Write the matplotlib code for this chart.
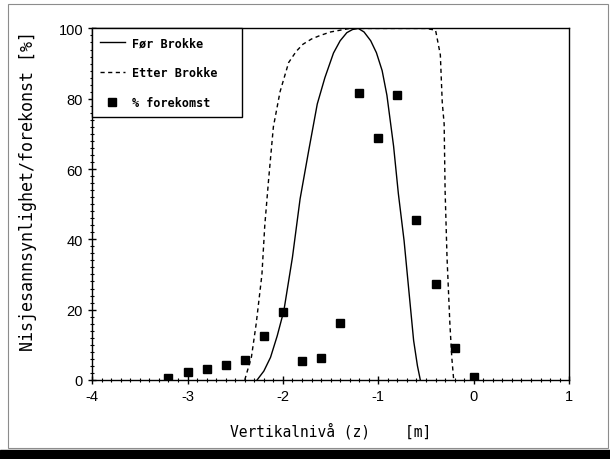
import matplotlib.pyplot as plt
from matplotlib.ticker import MultipleLocator
from matplotlib.patches import Rectangle

plt.rcParams['axes.unicode_minus'] = False

# Maalepunkter (% forekomst)
z_obs = [-3.2, -3.0, -2.8, -2.6, -2.4, -2.2, -2.0, -1.8, -1.6, -1.4,
         -1.2, -1.0, -0.8, -0.6, -0.4, -0.2, 0.0]
forekomst = [0.5, 2.3, 3.1, 4.2, 5.7, 12.5, 19.3, 5.4, 6.3, 16.2,
             81.5, 68.8, 81.2, 45.5, 27.3, 9.1, 0.9]

# Foer Brokke
z_for = [-2.27, -2.20, -2.13, -2.06, -1.99, -1.90, -1.82, -1.73, -1.64,
         -1.56, -1.47, -1.40, -1.33, -1.27, -1.21, -1.15, -1.08, -1.02,
         -0.96, -0.91, -0.84, -0.79, -0.73, -0.68, -0.63, -0.59, -0.56]
p_for = [0.0, 2.5, 6.4, 12.5, 19.7, 34.9, 51.5, 65.2, 78.5,
         86.0, 93.0, 96.5, 98.8, 99.7, 100.0, 99.0, 96.5, 93.1,
         88.0, 81.0, 66.5, 53.0, 39.6, 25.4, 11.2, 4.0, 0.0]

# Etter Brokke
z_etter = [-2.40, -2.33, -2.28, -2.22, -2.19, -2.15, -2.10, -2.03, -1.94,
           -1.86, -1.79, -1.70, -1.61, -1.50, -1.40, -1.30, -0.50, -0.40,
           -0.35, -0.33, -0.31, -0.30, -0.28, -0.25, -0.23, -0.21]
p_etter = [0.0, 6.5, 16.0, 30.0, 44.0, 57.0, 72.0, 82.0, 90.3,
           93.5, 95.5, 97.0, 98.0, 99.0, 99.5, 100.0, 100.0, 99.5,
           92.5, 79.0, 72.8, 53.8, 34.9, 16.0, 6.4, 0.0]

fig = plt.figure(figsize=(6.1, 4.6), dpi=100)
ax = fig.add_axes([0.151, 0.172, 0.782, 0.764])

ax.plot(z_for, p_for, color='black', lw=1.0, label='Før Brokke')
ax.plot(z_etter, p_etter, color='black', lw=1.0, linestyle=(0, (3, 2.5)),
        label='Etter Brokke')
ax.plot(z_obs, forekomst, linestyle='none', marker='s', ms=5.2,
        color='black', label='% forekomst')

ax.set_xlim(-4, 1)
ax.set_ylim(0, 100)
ax.xaxis.set_major_locator(MultipleLocator(1))
ax.xaxis.set_minor_locator(MultipleLocator(0.1))
ax.yaxis.set_major_locator(MultipleLocator(20))
ax.yaxis.set_minor_locator(MultipleLocator(2))
ax.tick_params(which='major', direction='inout', length=6, width=1,
               labelsize=10.5)
ax.tick_params(which='minor', direction='inout', length=3, width=0.8)
for lab in ax.get_xticklabels() + ax.get_yticklabels():
    lab.set_fontfamily('Liberation Sans')

for s in ax.spines.values():
    s.set_linewidth(1.0)

mono = 'DejaVu Sans Mono'
ax.set_xlabel('Vertikalnivå (z)    [m]', family=mono, fontsize=10.5,
              labelpad=14)
ax.set_ylabel('Nisjesannsynlighet/forekonst [%]', family=mono,
              fontsize=12)
ax.yaxis.set_label_coords(-0.115, 0.541)

leg = ax.legend(loc='upper left', bbox_to_anchor=(0, 1, 0.314, 0),
                mode='expand', borderaxespad=0, fancybox=False,
                edgecolor='black', framealpha=1, handlelength=2.1,
                handletextpad=0.6, labelspacing=1.45, borderpad=0.65,
                prop={'family': mono, 'size': 8.5, 'weight': 'bold'})
leg.get_frame().set_linewidth(1.0)

# ramme rundt figuren og den svarte kanten nederst
fig.patches.append(Rectangle((8 / 610, 1 - 449 / 460), 600 / 610, 444 / 460,
                             transform=fig.transFigure, fill=False,
                             edgecolor='0.55', lw=0.8))
fig.patches.append(Rectangle((0, 0), 1, 9 / 460, transform=fig.transFigure,
                             color='black'))

fig.savefig('out.png', dpi=100)
